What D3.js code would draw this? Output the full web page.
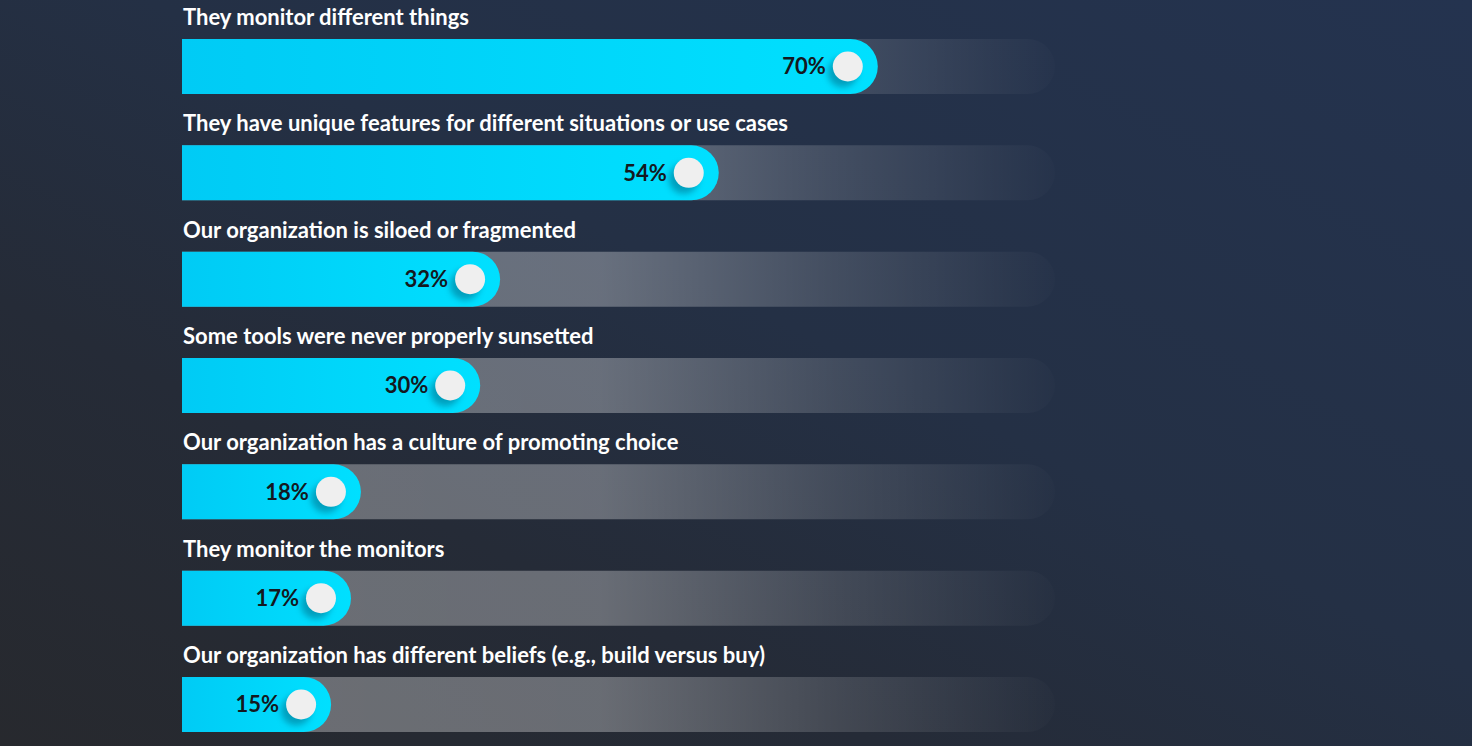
<!DOCTYPE html>
<html>
<head>
<meta charset="utf-8">
<script src="https://cdn.jsdelivr.net/npm/d3@7"></script>
<style>
  html, body { margin: 0; padding: 0; overflow: hidden; background: #252b38; }
  svg { display: block; }
  .label { font-family: Lato, sans-serif; font-weight: 700; fill: #ffffff; }
  .pct { font-family: Lato, sans-serif; font-weight: 700; fill: #141820; }
</style>
</head>
<body>
<div id="chart"></div>
<script>
const reasons = [
  "They monitor different things",
  "They have unique features for different situations or use cases",
  "Our organization is siloed or fragmented",
  "Some tools were never properly sunsetted",
  "Our organization has a culture of promoting choice",
  "They monitor the monitors",
  "Our organization has different beliefs (e.g., build versus buy)"
];
const shares = [70, 54, 32, 30, 18, 17, 15];

const width = 1472;
const height = 746;
const barH = 55;

const svg = d3.select("#chart")
  .append("svg")
    .attr("width", width)
    .attr("height", height);

const defs = svg.append("defs");

const bg = defs.append("linearGradient")
  .attr("id", "bg")
  .attr("x1", "0%").attr("y1", "100%")
  .attr("x2", "100%").attr("y2", "0%");
bg.append("stop").attr("offset", "0%").attr("stop-color", "#27292e");
bg.append("stop").attr("offset", "30%").attr("stop-color", "#252b37");
bg.append("stop").attr("offset", "55%").attr("stop-color", "#243045");
bg.append("stop").attr("offset", "100%").attr("stop-color", "#24334f");

const track = defs.append("linearGradient")
  .attr("id", "track")
  .attr("x1", "0%").attr("x2", "100%").attr("y1", "0%").attr("y2", "0%");
track.append("stop").attr("offset", "0%").attr("stop-color", "#ffffff").attr("stop-opacity", 0.32);
track.append("stop").attr("offset", "48%").attr("stop-color", "#ffffff").attr("stop-opacity", 0.31);
track.append("stop").attr("offset", "75%").attr("stop-color", "#ffffff").attr("stop-opacity", 0.14);
track.append("stop").attr("offset", "100%").attr("stop-color", "#ffffff").attr("stop-opacity", 0.01);

const cyan = defs.append("linearGradient")
  .attr("id", "cyan")
  .attr("x1", "0%").attr("x2", "100%").attr("y1", "0%").attr("y2", "0%");
cyan.append("stop").attr("offset", "0%").attr("stop-color", "#00cbf5");
cyan.append("stop").attr("offset", "100%").attr("stop-color", "#00e0ff");

const shadow = defs.append("filter")
  .attr("id", "knobShadow")
  .attr("x", "-50%").attr("y", "-50%").attr("width", "200%").attr("height", "200%");
shadow.append("feGaussianBlur").attr("stdDeviation", 3);

svg.append("rect")
  .attr("width", width)
  .attr("height", height)
  .attr("fill", "url(#bg)");

const x = d3.scaleLinear()
  .domain([0, 100])
  .range([182, 1176]);

const y = d3.scalePoint()
  .domain(reasons)
  .range([39, 677]);

const trackEnd = 1055;

// bar with a square left end and a round right end
function pill(x0, x1, h) {
  const r = h / 2;
  return `M${x0},0 H${x1 - r} A${r},${r} 0 0 1 ${x1 - r},${h} H${x0} Z`;
}

const rows = svg.selectAll("g.row")
  .data(reasons.map((d, i) => ({ reason: d, share: shares[i] })))
  .enter().append("g")
    .attr("class", "row")
    .attr("transform", d => `translate(0, ${y(d.reason)})`);

rows.append("path")
  .attr("d", pill(x(0), trackEnd, barH))
  .attr("fill", "url(#track)");

rows.append("path")
  .attr("d", d => pill(x(0), x(d.share), barH))
  .attr("fill", "url(#cyan)");

rows.append("circle")
  .attr("cx", d => x(d.share) - 35)
  .attr("cy", barH / 2 + 6)
  .attr("r", 15)
  .attr("fill", "#0090ad")
  .attr("opacity", 0.8)
  .attr("filter", "url(#knobShadow)");

rows.append("circle")
  .attr("cx", d => x(d.share) - 30)
  .attr("cy", barH / 2)
  .attr("r", 15)
  .attr("fill", "#efefef");

rows.append("text")
  .attr("class", "pct")
  .attr("x", d => x(d.share) - 52)
  .attr("y", barH / 2)
  .attr("dy", "0.36em")
  .attr("text-anchor", "end")
  .style("font-size", "22px")
  .text(d => d.share + "%");

rows.append("text")
  .attr("class", "label")
  .attr("x", 183)
  .attr("y", -14)
  .style("font-size", "22px")
  .text(d => d.reason);
</script>
</body>
</html>
